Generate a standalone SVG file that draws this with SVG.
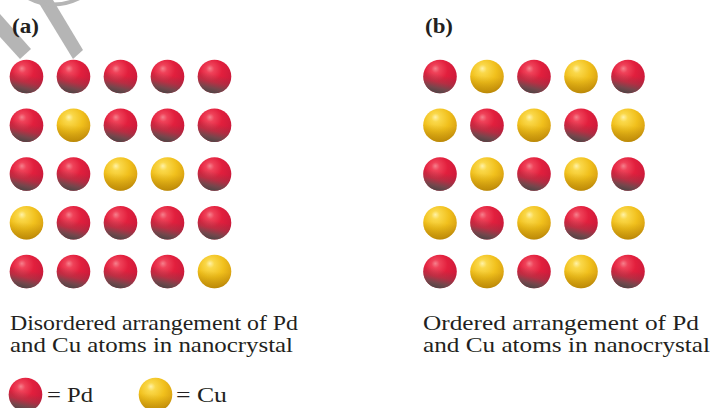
<svg xmlns="http://www.w3.org/2000/svg" xmlns:xlink="http://www.w3.org/1999/xlink" width="714" height="408" viewBox="0 0 714 408">
  <style>
    .lbl { font-family: "Liberation Serif", "Times New Roman", serif; font-weight: bold; font-size: 20px; fill: #231f20; }
    .cap { font-family: "Liberation Serif", "Times New Roman", serif; font-size: 21.5px; fill: #231f20; }
    .mark { fill: #b5b5b5; }
  </style>
  <defs>
    <radialGradient id="pdBody" cx="0.42" cy="0.34" r="0.68" fx="0.36" fy="0.26">
      <stop offset="0" stop-color="#f6808c"/>
      <stop offset="0.18" stop-color="#ef4259"/>
      <stop offset="0.5" stop-color="#e21f3d"/>
      <stop offset="1" stop-color="#c8193a"/>
    </radialGradient>
    <linearGradient id="pdShade" x1="0.55" y1="0.45" x2="0.42" y2="1">
      <stop offset="0" stop-color="#5e4c4c" stop-opacity="0"/>
      <stop offset="0.4" stop-color="#6a5252" stop-opacity="0.3"/>
      <stop offset="0.72" stop-color="#615050" stop-opacity="0.8"/>
      <stop offset="1" stop-color="#4e4444" stop-opacity="1"/>
    </linearGradient>
    <radialGradient id="cuBody" cx="0.42" cy="0.34" r="0.7" fx="0.36" fy="0.26">
      <stop offset="0" stop-color="#fff2a8"/>
      <stop offset="0.18" stop-color="#fad84a"/>
      <stop offset="0.55" stop-color="#f1c01c"/>
      <stop offset="0.88" stop-color="#dca513"/>
      <stop offset="1" stop-color="#c8920f"/>
    </radialGradient>
    <linearGradient id="cuShade" x1="0.5" y1="0.5" x2="0.45" y2="1">
      <stop offset="0" stop-color="#a87a00" stop-opacity="0"/>
      <stop offset="1" stop-color="#a87a00" stop-opacity="0.55"/>
    </linearGradient>
    <g id="pdAtom">
      <circle r="16.8" fill="url(#pdBody)"/>
      <circle r="16.8" fill="url(#pdShade)"/>
    </g>
    <g id="cuAtom">
      <circle r="16.8" fill="url(#cuBody)"/>
      <circle r="16.8" fill="url(#cuShade)"/>
    </g>
  </defs>

  <rect width="714" height="408" fill="#ffffff"/>

  <!-- grey logo strokes in the top-left corner -->
  <g id="logo-mark">
    <polygon class="mark" points="0,14 31,49 20,59 0,37"/>
    <polygon class="mark" points="37,0 53,0 83,50 73,59"/>
    <path class="mark" d="M28,0 Q53,13 80,0 L70,0 Q53,5 38,0 Z"/>
  </g>

  <!-- panel (a): disordered lattice -->
  <g id="panel-a">
    <text class="lbl" x="12" y="33" textLength="27" lengthAdjust="spacingAndGlyphs">(a)</text>
    <g id="lattice-a">
      <use href="#pdAtom" x="26.5" y="76.5"/>
      <use href="#pdAtom" x="73.5" y="76.5"/>
      <use href="#pdAtom" x="120.5" y="76.5"/>
      <use href="#pdAtom" x="167.5" y="76.5"/>
      <use href="#pdAtom" x="214.5" y="76.5"/>

      <use href="#pdAtom" x="26.5" y="125.2"/>
      <use href="#cuAtom" x="73.5" y="125.2"/>
      <use href="#pdAtom" x="120.5" y="125.2"/>
      <use href="#pdAtom" x="167.5" y="125.2"/>
      <use href="#pdAtom" x="214.5" y="125.2"/>

      <use href="#pdAtom" x="26.5" y="174"/>
      <use href="#pdAtom" x="73.5" y="174"/>
      <use href="#cuAtom" x="120.5" y="174"/>
      <use href="#cuAtom" x="167.5" y="174"/>
      <use href="#pdAtom" x="214.5" y="174"/>

      <use href="#cuAtom" x="26.5" y="222.7"/>
      <use href="#pdAtom" x="73.5" y="222.7"/>
      <use href="#pdAtom" x="120.5" y="222.7"/>
      <use href="#pdAtom" x="167.5" y="222.7"/>
      <use href="#pdAtom" x="214.5" y="222.7"/>

      <use href="#pdAtom" x="26.5" y="271.5"/>
      <use href="#pdAtom" x="73.5" y="271.5"/>
      <use href="#pdAtom" x="120.5" y="271.5"/>
      <use href="#pdAtom" x="167.5" y="271.5"/>
      <use href="#cuAtom" x="214.5" y="271.5"/>
    </g>
    <text class="cap" x="10" y="330" textLength="288" lengthAdjust="spacingAndGlyphs">Disordered arrangement of Pd</text>
    <text class="cap" x="10" y="352" textLength="283" lengthAdjust="spacingAndGlyphs">and Cu atoms in nanocrystal</text>
  </g>

  <!-- panel (b): ordered lattice -->
  <g id="panel-b">
    <text class="lbl" x="425" y="33" textLength="28" lengthAdjust="spacingAndGlyphs">(b)</text>
    <g id="lattice-b">
      <use href="#pdAtom" x="440" y="76.5"/>
      <use href="#cuAtom" x="487" y="76.5"/>
      <use href="#pdAtom" x="534" y="76.5"/>
      <use href="#cuAtom" x="581" y="76.5"/>
      <use href="#pdAtom" x="628" y="76.5"/>

      <use href="#cuAtom" x="440" y="125.2"/>
      <use href="#pdAtom" x="487" y="125.2"/>
      <use href="#cuAtom" x="534" y="125.2"/>
      <use href="#pdAtom" x="581" y="125.2"/>
      <use href="#cuAtom" x="628" y="125.2"/>

      <use href="#pdAtom" x="440" y="174"/>
      <use href="#cuAtom" x="487" y="174"/>
      <use href="#pdAtom" x="534" y="174"/>
      <use href="#cuAtom" x="581" y="174"/>
      <use href="#pdAtom" x="628" y="174"/>

      <use href="#cuAtom" x="440" y="222.7"/>
      <use href="#pdAtom" x="487" y="222.7"/>
      <use href="#cuAtom" x="534" y="222.7"/>
      <use href="#pdAtom" x="581" y="222.7"/>
      <use href="#cuAtom" x="628" y="222.7"/>

      <use href="#pdAtom" x="440" y="271.5"/>
      <use href="#cuAtom" x="487" y="271.5"/>
      <use href="#pdAtom" x="534" y="271.5"/>
      <use href="#cuAtom" x="581" y="271.5"/>
      <use href="#pdAtom" x="628" y="271.5"/>
    </g>
    <text class="cap" x="423" y="330" textLength="276" lengthAdjust="spacingAndGlyphs">Ordered arrangement of Pd</text>
    <text class="cap" x="423" y="352" textLength="287" lengthAdjust="spacingAndGlyphs">and Cu atoms in nanocrystal</text>
  </g>

  <!-- key -->
  <g id="legend-pd">
    <use href="#pdAtom" x="25.5" y="394.5"/>
    <text class="cap" x="47" y="401.5" textLength="46" lengthAdjust="spacingAndGlyphs">= Pd</text>
  </g>
  <g id="legend-cu">
    <use href="#cuAtom" x="155.5" y="394.5"/>
    <text class="cap" x="176" y="401.5" textLength="51" lengthAdjust="spacingAndGlyphs">= Cu</text>
  </g>
</svg>
